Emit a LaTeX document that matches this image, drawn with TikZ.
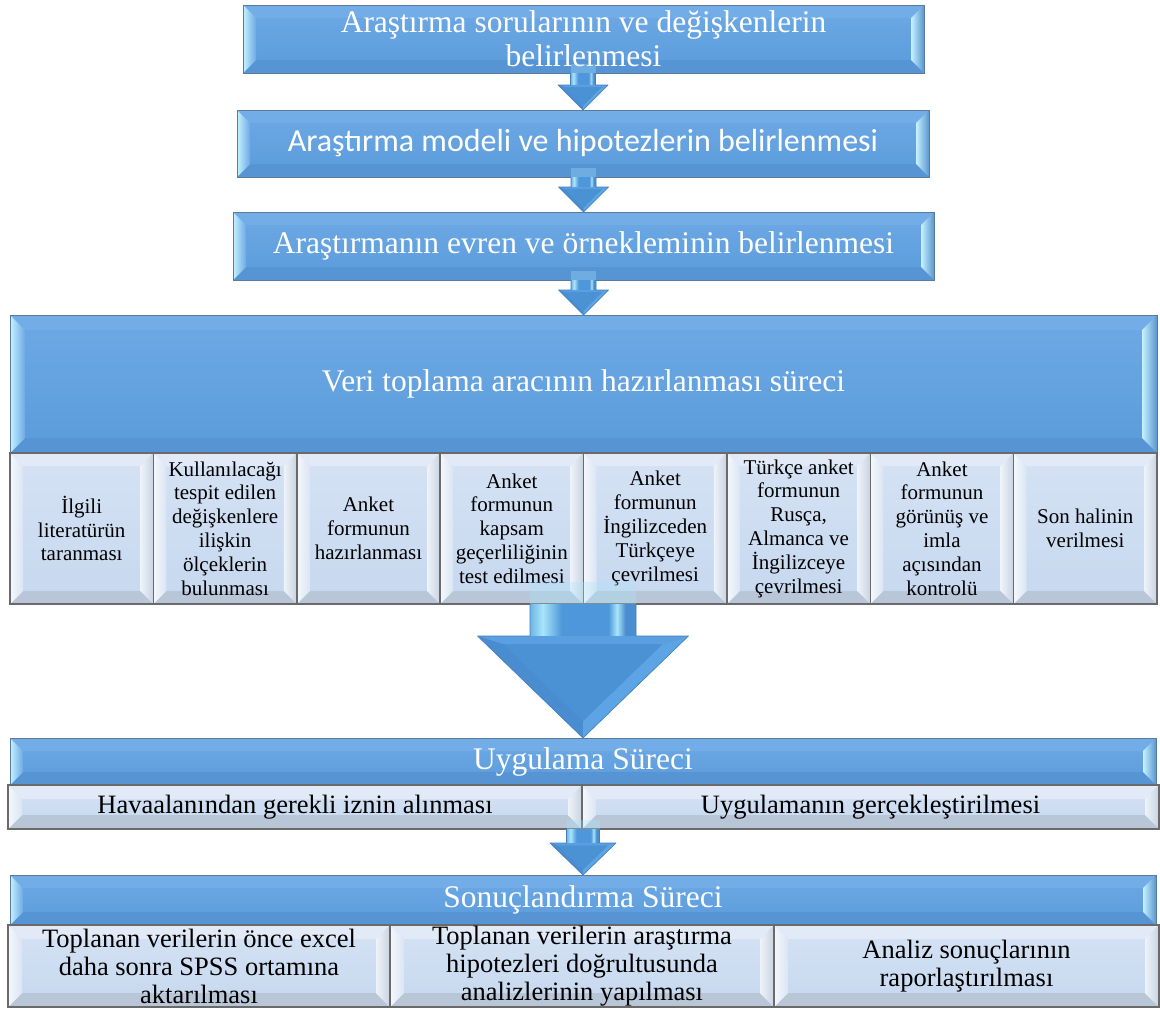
\documentclass[tikz,border=0pt]{standalone}
\usepackage{fontspec}
\setmainfont{Liberation Serif}
\newfontfamily\calibrifont{Carlito}
\usetikzlibrary{calc}

% blue header boxes
\definecolor{hdrtop}{HTML}{6DA9E5}
\definecolor{hdrbot}{HTML}{5B9BDB}
\definecolor{hdrtopface}{HTML}{72ADE7}
\definecolor{hdrbotface}{HTML}{5794D4}
\definecolor{hdrcyan}{HTML}{C4F2FF}
\definecolor{hdredge}{HTML}{5A95CF}
\definecolor{hdrborder}{HTML}{5B7B9C}
% pale step boxes
\definecolor{subtop}{HTML}{D5E2F4}
\definecolor{subbot}{HTML}{C6D8EF}
\definecolor{subtopface}{HTML}{E1EAF6}
\definecolor{subbotface}{HTML}{B8C6D8}
\definecolor{subleftA}{HTML}{F5F8FC}
\definecolor{subleftB}{HTML}{DAE5F3}
\definecolor{subrightA}{HTML}{EEF3F9}
\definecolor{subrightB}{HTML}{C8D3E1}
\definecolor{subborder}{HTML}{6A6A6A}
% block arrows
\definecolor{acyan}{HTML}{A9E5FA}
\definecolor{alight}{HTML}{6DB4E6}
\definecolor{abody}{HTML}{4E97DA}
\definecolor{aedge}{HTML}{4A8ED0}
\definecolor{aheadface}{HTML}{4F95D7}
\definecolor{aheadtop}{HTML}{5A9FDF}
\definecolor{aheaddark}{HTML}{498DD0}
\definecolor{aheadlight}{HTML}{5DA4E4}
\definecolor{aheadin}{HTML}{4B92D5}
\definecolor{aline}{HTML}{4580BA}

\pgfdeclarehorizontalshading{shaftshade}{100bp}{%
  color(0bp)=(alight); color(25bp)=(alight); color(31bp)=(acyan);
  color(40bp)=(abody); color(62bp)=(abody); color(66bp)=(acyan);
  color(70bp)=(aedge); color(75bp)=(aedge); color(100bp)=(aedge)}

\tikzset{
  hdrfill/.style={top color=hdrtop, bottom color=hdrbot},
  hdrtopf/.style={fill=hdrtopface},
  hdrbotf/.style={fill=hdrbotface},
  hdrleftf/.style={left color=hdrcyan, right color=hdrtop},
  hdrrightf/.style={left color=hdrcyan, right color=hdredge},
  hdrline/.style={draw=hdrborder, line width=1pt},
  hdrtext/.style={text=white, align=center, inner sep=0pt, outer sep=0pt},
  subfill/.style={top color=subtop, bottom color=subbot},
  subtopf/.style={fill=subtopface},
  subbotf/.style={fill=subbotface},
  subleftf/.style={left color=subleftA, right color=subleftB},
  subrightf/.style={left color=subrightA, right color=subrightB},
  subline/.style={draw=subborder, line width=1.4pt},
  subtext/.style={text=black, align=center, inner sep=0pt, outer sep=0pt},
  bigserif/.style={font=\fontsize{31.5}{34}\selectfont},
  stepfont/.style={font=\fontsize{21}{23.8}\selectfont},
  barfont/.style={font=\fontsize{26.5}{28}\selectfont},
}

% bevelled box: [text options] name, x1, y1, x2, y2, kind (hdr/sub), bevel depth, text
\newcommand\bbox[9][]{%
  \fill[#7fill] (#3,#4) rectangle (#5,#6);
  \path[#7topf] (#3,#4) -- (#5,#4) -- ({#5-#8},{#4+#8}) -- ({#3+#8},{#4+#8}) -- cycle;
  \path[#7botf] (#3,#6) -- (#5,#6) -- ({#5-#8},{#6-#8}) -- ({#3+#8},{#6-#8}) -- cycle;
  \path[#7leftf] (#3,#4) -- ({#3+#8},{#4+#8}) -- ({#3+#8},{#6-#8}) -- (#3,#6) -- cycle;
  \path[#7rightf] (#5,#4) -- ({#5-#8},{#4+#8}) -- ({#5-#8},{#6-#8}) -- (#5,#6) -- cycle;
  \draw[#7line] (#3,#4) rectangle (#5,#6);
  \node[#7text, minimum width={#5-#3}, minimum height={#6-#4}, #1]
    (#2) at ({(#3+#5)/2},{(#4+#6)/2}) {#9};
}

% block arrow between two boxes:
% from, to, shaft half width, head half width, head length, overlap into the upper box
\newcommand\blockarr[6]{%
  \coordinate (ar-s) at (#1.south -| #2.north);
  \coordinate (ar-o) at ($(ar-s)+(0,-#6)$);
  \coordinate (ar-t) at (#2.north);
  \coordinate (ar-h) at ($(ar-t)+(0,-#5)$);
  \coordinate (ar-a) at ($(ar-h)+(-#4,0)$);
  \coordinate (ar-b) at ($(ar-h)+(#4,0)$);
  \coordinate (ar-g) at ($(ar-h)!0.333!(ar-t)$);
  \coordinate (ar-a2) at ($(ar-g)!0.75!(ar-a)$);
  \coordinate (ar-b2) at ($(ar-g)!0.75!(ar-b)$);
  \coordinate (ar-t2) at ($(ar-g)!0.75!(ar-t)$);
  \fill[acyan, fill opacity=0.3] ($(ar-o)+(-#3,0)$) rectangle ($(ar-s)+(#3,0)$);
  \shade[shading=shaftshade] ($(ar-s)+(-#3,0)$) rectangle ($(ar-h)+(#3,0)$);
  \fill[aheadface] (ar-a) -- (ar-b) -- (ar-t) -- cycle;
  \fill[aheadtop] (ar-a) -- (ar-b) -- (ar-b2) -- (ar-a2) -- cycle;
  \fill[aheaddark] (ar-a) -- (ar-t) -- (ar-t2) -- (ar-a2) -- cycle;
  \fill[aheadlight] (ar-t) -- (ar-b) -- (ar-b2) -- (ar-t2) -- cycle;
  \fill[aheadin] (ar-a2) -- (ar-b2) -- (ar-t2) -- cycle;
  \draw[aline, line width=0.6pt, line join=round]
    ($(ar-s)+(-#3,0)$) -- ($(ar-h)+(-#3,0)$) -- (ar-a) -- (ar-t) -- (ar-b)
    -- ($(ar-h)+(#3,0)$) -- ($(ar-s)+(#3,0)$);
}

\begin{document}
\begin{tikzpicture}[x=1pt, y=-1pt]
\useasboundingbox (0,0) rectangle (1160,1015);
\fill[white] (0,0) rectangle (1160,1015);

% opening steps
\bbox[bigserif]{b1}{243}{5}{924}{73}{hdr}{13}{Araştırma sorularının ve değişkenlerin\\belirlenmesi}
\bbox[font=\calibrifont\fontsize{32}{36}\selectfont]{b2}{237}{110}{929}{177}{hdr}{13}{Araştırma modeli ve hipotezlerin belirlenmesi}
\bbox[bigserif]{b3}{233}{212}{934}{280}{hdr}{13}{Araştırmanın evren ve örnekleminin belirlenmesi}

% data collection instrument
\bbox[bigserif]{vt}{10}{315}{1157}{453}{hdr}{15}{Veri toplama aracının hazırlanması süreci}
\bbox[stepfont]{s1}{10}{453}{153.4}{604}{sub}{13}{İlgili\\literatürün\\taranması}
\bbox[stepfont]{s2}{153.4}{453}{296.8}{604}{sub}{13}{Kullanılacağı\\tespit edilen\\değişkenlere\\ilişkin\\ölçeklerin\\bulunması}
\bbox[stepfont]{s3}{296.8}{453}{440.1}{604}{sub}{13}{Anket\\formunun\\hazırlanması}
\bbox[stepfont]{s4}{440.1}{453}{583.5}{604}{sub}{13}{Anket\\formunun\\kapsam\\geçerliliğinin\\test edilmesi}
\bbox[stepfont]{s5}{583.5}{453}{726.9}{604}{sub}{13}{Anket\\formunun\\İngilizceden\\Türkçeye\\çevrilmesi}
\bbox[stepfont]{s6}{726.9}{453}{870.3}{604}{sub}{13}{Türkçe anket\\formunun\\Rusça,\\Almanca ve\\İngilizceye\\çevrilmesi}
\bbox[stepfont]{s7}{870.3}{453}{1013.6}{604}{sub}{13}{Anket\\formunun\\görünüş ve\\imla\\açısından\\kontrolü}
\bbox[stepfont]{s8}{1013.6}{453}{1157}{604}{sub}{13}{Son halinin\\verilmesi}

% application
\bbox[bigserif]{uy}{10}{738}{1156}{785}{hdr}{13}{Uygulama Süreci}
\bbox[barfont]{ua}{8}{785}{582}{829}{sub}{14}{Havaalanından gerekli iznin alınması}
\bbox[barfont]{ub}{582}{785}{1159}{829}{sub}{14}{Uygulamanın gerçekleştirilmesi}

% conclusion
\bbox[bigserif]{so}{10}{875}{1156}{925}{hdr}{13}{Sonuçlandırma Süreci}
\bbox[barfont]{sa}{8}{925}{390}{1007}{sub}{14}{Toplanan verilerin önce excel\\daha sonra SPSS ortamına\\aktarılması}
\bbox[barfont]{sb}{390}{925}{774}{1007}{sub}{14}{Toplanan verilerin araştırma\\hipotezleri doğrultusunda\\analizlerinin yapılması}
\bbox[barfont]{sc}{774}{925}{1159}{1007}{sub}{14}{Analiz sonuçlarının\\raporlaştırılması}

% flow arrows
\blockarr{b1}{b2}{12.5}{25}{25}{9}
\blockarr{b2}{b3}{12.5}{25}{25}{9}
\blockarr{b3}{vt}{12.5}{25}{25}{9}
\blockarr{s4}{uy}{53}{105.5}{102}{22}
\blockarr{ua}{so}{16.5}{33}{32}{9}
\end{tikzpicture}
\end{document}
